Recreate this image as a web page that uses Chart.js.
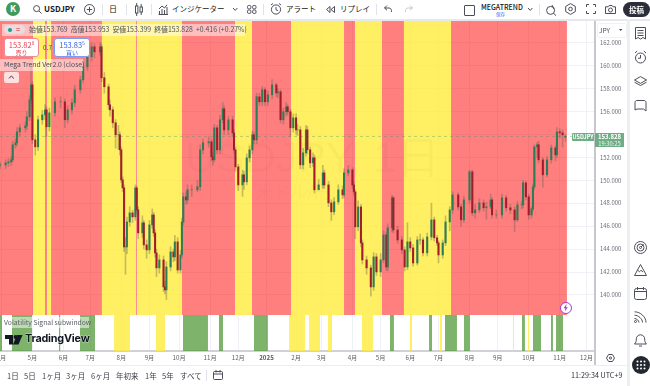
<!DOCTYPE html>
<html lang="ja"><head><meta charset="utf-8"><title>USDJPY</title>
<script src="https://cdn.jsdelivr.net/npm/chart.js@4/dist/chart.umd.min.js"></script>
<style>
html,body{margin:0;padding:0;background:#fff;width:650px;height:386px;overflow:hidden;font-family:"Noto Sans CJK JP","Noto Sans",sans-serif;color:#131722}
canvas{position:absolute;left:0;display:block}
.t{position:absolute;white-space:nowrap;line-height:1}
.b{position:absolute}
svg.i{position:absolute;fill:none;stroke:#4a4e59;stroke-width:1;overflow:visible}
</style></head><body>
<canvas id="main" width="628" height="294" style="top:21px"></canvas>
<canvas id="sub" width="628" height="50" style="top:315px"></canvas>

<!-- chrome lines -->
<div class="b" style="left:0;top:19px;width:650px;height:2px;background:#e6e8ee"></div>
<div class="b" style="left:594px;top:21px;width:1.5px;height:344px;background:#c6c8ce"></div>
<div class="b" style="left:627px;top:19px;width:3px;height:367px;background:#eceef2"></div>
<div class="b" style="left:0;top:365px;width:628px;height:1px;background:#eceef2"></div>

<!-- watermark -->
<div class="t" style="left:185px;top:136px;font-size:43px;color:rgba(0,0,0,.025);font-family:'Liberation Sans'">USDJPY, 1日</div>
<div class="t" style="left:256px;top:182px;font-size:17px;color:rgba(0,0,0,.025)">米ドル/円</div>

<!-- top bar -->
<div class="b" style="left:6px;top:2px;width:14px;height:14px;border-radius:50%;background:#3f9a5c;color:#fff;font-size:9px;font-weight:700;text-align:center;line-height:14px">K</div>
<svg class="i" style="left:33px;top:5px" width="9" height="9"><circle cx="3.6" cy="3.6" r="3"/><path d="M6 6l2.6 2.6"/></svg>
<div class="t" style="left:44px;top:5px;font-size:8px;font-weight:700">USDJPY</div>
<svg class="i" style="left:84px;top:4px" width="11" height="11"><circle cx="5.5" cy="5.5" r="5"/><path d="M5.5 2.8v5.4M2.8 5.5h5.4"/></svg>
<div class="b" style="left:102px;top:4px;width:1px;height:11px;background:#e0e3eb"></div>
<div class="t" style="left:109px;top:5px;font-size:8px">日</div>
<div class="b" style="left:126px;top:4px;width:1px;height:11px;background:#e0e3eb"></div>
<svg class="i" style="left:135px;top:3px" width="8" height="13"><rect x="0.5" y="3" width="2.4" height="7"/><rect x="5" y="4" width="2.4" height="5"/><path d="M1.7 0v3M1.7 10v3M6.2 1v3M6.2 9v3"/></svg>
<div class="b" style="left:151px;top:4px;width:1px;height:11px;background:#e0e3eb"></div>
<svg class="i" style="left:158px;top:4px" width="10" height="11"><path d="M0.5 10.5h9.5M1.5 10V7M4 10V5M6.5 10V6M9 10V3M1 5l3-3 2.5 2L9 0.8"/></svg>
<div class="t" style="left:172px;top:5px;font-size:7.5px">インジケーター</div>
<svg class="i" style="left:233px;top:8px" width="5" height="3"><path d="M0 0l2.2 2.4L4.4 0"/></svg>
<svg class="i" style="left:247px;top:5px" width="10" height="9"><rect x="0.5" y="0.5" width="3.4" height="3.4" rx="1.2"/><rect x="5.6" y="0.5" width="3.4" height="3.4" rx="1.2"/><rect x="0.5" y="5" width="3.4" height="3.4" rx="1.2"/><rect x="5.6" y="5" width="3.4" height="3.4" rx="1.2"/></svg>
<div class="b" style="left:263px;top:4px;width:1px;height:11px;background:#e0e3eb"></div>
<svg class="i" style="left:270px;top:3px" width="12" height="12"><circle cx="6" cy="6.5" r="4.6"/><path d="M6 4v2.8l2 .8M1 2l2-1.5M11 2l-2-1.5"/></svg>
<div class="t" style="left:286px;top:5px;font-size:7.5px">アラート</div>
<svg class="i" style="left:326px;top:6px" width="9" height="7"><path d="M4 0.5L0.5 3.5 4 6.5zM8.5 0.5L5 3.5l3.5 3z"/></svg>
<div class="t" style="left:340px;top:5px;font-size:7.5px">リプレイ</div>
<div class="b" style="left:376px;top:4px;width:1px;height:11px;background:#e0e3eb"></div>
<svg class="i" style="left:384px;top:5px" width="8" height="8"><path d="M3 0.5L0.5 3 3 5.2M0.5 3h4.4c1.5 0 2.5 1 2.5 2.5v1.5"/></svg>
<svg class="i" style="left:405px;top:5px;stroke:#c5c7cd" width="8" height="8"><path d="M5 0.5L7.5 3 5 5.2M7.5 3H3.1C1.6 3 .6 4 .6 5.5v1.5"/></svg>
<div class="b" style="left:464px;top:5px;width:9px;height:9px;border:1px solid #4a4e59;border-radius:1px"></div>
<div class="t" style="left:481px;top:4px;font-size:7px;font-weight:500">MEGATREND</div>
<div class="t" style="left:496px;top:11.5px;font-size:4.5px;color:#2962ff">保存</div>
<svg class="i" style="left:528px;top:8px" width="5" height="3"><path d="M0 0l2.2 2.4L4.4 0"/></svg>
<div class="b" style="left:539px;top:4px;width:1px;height:11px;background:#e0e3eb"></div>
<svg class="i" style="left:546px;top:3px" width="11" height="13"><circle cx="4.6" cy="7.4" r="4"/><path d="M6 2l2 4M7.4 10.2l2.6 2.4"/></svg>
<svg class="i" style="left:565px;top:3px" width="11" height="12"><path d="M5.5 .6l4.8 2.8v5.2L5.5 11.4.7 8.6V3.4z"/><circle cx="5.5" cy="6" r="1.8"/></svg>
<svg class="i" style="left:586px;top:4px" width="10" height="10"><path d="M0.5 3V0.5H3M7 0.5h2.5V3M9.5 7v2.5H7M3 9.5H0.5V7"/></svg>
<svg class="i" style="left:605px;top:5px" width="11" height="9"><path d="M0.5 1.8h2.6l1-1.3h3l1 1.3h2.4v6.7H0.5z"/><circle cx="5.5" cy="5" r="2"/></svg>
<div class="b" style="left:623px;top:2px;width:27px;height:15px;border-radius:8px;background:#2a2e39;color:#fff;font-size:7.5px;font-weight:700;text-align:center;line-height:15px">投稿</div>

<!-- legend -->
<div class="b" style="left:2px;top:24px;width:243px;height:12px;background:rgba(255,255,255,.5)"></div>
<div class="b" style="left:4px;top:25px;width:21px;height:9px;border-radius:5px;background:rgba(225,227,232,.8)"></div>
<div class="b" style="left:7.5px;top:27.5px;width:4px;height:4px;border-radius:50%;background:#1c9b8c"></div>
<div class="t" style="left:16px;top:25.5px;font-size:7px;color:#ef5350;font-weight:700">=</div>
<div class="t" style="left:29px;top:26px;font-size:6.9px;color:#4a4e59">始値153.769&nbsp; 高値153.953&nbsp; 安値153.399&nbsp; 終値153.828&nbsp; +0.416 (+0.27%)</div>
<div class="b" style="left:4px;top:38px;width:33px;height:17px;background:#fff;border:1px solid #f08a94;border-radius:3px;color:#e8414f;text-align:center"><div style="font-size:7.5px;line-height:10px;margin-top:1px">153.82<sup style="font-size:4.5px;line-height:0">8</sup></div><div style="font-size:6px;line-height:6px">売り</div></div>
<div class="t" style="left:43px;top:44px;font-size:6.5px;color:#4a4e59">0.7</div>
<div class="b" style="left:54px;top:38px;width:34px;height:17px;background:#fff;border:1px solid #7d9df5;border-radius:3px;color:#2f62e8;text-align:center"><div style="font-size:7.5px;line-height:10px;margin-top:1px">153.83<sup style="font-size:4.5px;line-height:0">5</sup></div><div style="font-size:6px;line-height:6px">買い</div></div>
<div class="b" style="left:0;top:59px;width:83px;height:12px;background:rgba(255,255,255,.5)"></div>
<div class="t" style="left:4px;top:61px;font-size:6.8px;color:#4a4e59">Mega Trend Ver2.0 (close)</div>
<div class="b" style="left:4px;top:72px;width:15px;height:11px;background:rgba(255,255,255,.75);border-radius:2px"></div>
<svg class="i" style="left:9px;top:76px" width="5" height="3"><path d="M0 2.4L2.4 0l2.4 2.4" stroke="#333"/></svg>

<!-- price axis -->
<div class="b" style="left:597px;top:23px;width:28px;height:13px;border:1px solid #f0f1f4;border-radius:2px;background:#fff"></div>
<div class="t" style="left:599px;top:26.5px;font-size:6.5px;color:#4a4e59">JPY</div>
<svg class="i" style="left:619px;top:29px" width="4" height="3"><path d="M0 0h3.4L1.7 2z" fill="#4a4e59" stroke="none"/></svg>
<div class="b" style="left:572px;top:133px;width:22px;height:8px;background:#6fae85;color:#fff;font-size:5.5px;font-weight:700;text-align:center;line-height:8px;border-radius:1px 0 0 1px">USDJPY</div>
<div class="b" style="left:595px;top:133px;width:29px;height:14px;background:#6fae85;color:#fff;text-align:center;font-size:6px;line-height:7px"><div style="font-weight:600">153.828</div><div style="opacity:.85;font-size:5.8px">19:30:25</div></div>

<!-- lightning -->
<div class="b" style="left:560px;top:302px;width:10px;height:10px;border:1px solid #a13fc9;border-radius:50%;background:#fff"></div>
<svg class="i" style="left:563px;top:304px;stroke:none" width="6" height="8"><path d="M3.6 0L0.6 4.2h1.8L1.8 7.4l3-4.2H3z" fill="#a13fc9"/></svg>

<!-- signal pane overlay -->
<div class="b" style="left:3px;top:317px;width:86px;height:11px;background:rgba(255,255,255,.5)"></div>
<div class="t" style="left:4px;top:319px;font-size:6.8px;color:#5c606b">Volatility Signal subwindow</div>
<svg class="i" style="left:5px;top:335px;stroke:none" width="18" height="10"><path d="M0 0h8v9.500H4V4H0zM12 0h5.500l-4 9.500H8z" fill="#131722"/><circle cx="10.500" cy="2" r="1.900" fill="#131722"/></svg>
<div class="t" style="left:25px;top:334px;font-size:10.800px;font-weight:700;color:#131722;font-family:'Inter','Noto Sans';letter-spacing:-.2px;-webkit-text-stroke:.5px #fff;paint-order:stroke">TradingView</div>

<!-- bottom bar -->
<div class="t" style="left:7px;top:372px;font-size:7.500px;color:#3a3e49">1日</div>
<div class="t" style="left:24px;top:372px;font-size:7.500px;color:#3a3e49">5日</div>
<div class="t" style="left:42px;top:372px;font-size:7.500px;color:#3a3e49">1ヶ月</div>
<div class="t" style="left:66px;top:372px;font-size:7.500px;color:#3a3e49">3ヶ月</div>
<div class="t" style="left:91px;top:372px;font-size:7.500px;color:#3a3e49">6ヶ月</div>
<div class="t" style="left:116px;top:372px;font-size:7.500px;color:#3a3e49">年初来</div>
<div class="t" style="left:145px;top:372px;font-size:7.500px;color:#3a3e49">1年</div>
<div class="t" style="left:162px;top:372px;font-size:7.500px;color:#3a3e49">5年</div>
<div class="t" style="left:180px;top:372px;font-size:7.500px;color:#3a3e49">すべて</div>
<div class="b" style="left:206px;top:370px;width:1px;height:11px;background:#e0e3eb"></div>
<svg class="i" style="left:213px;top:370px" width="10" height="10"><rect x="0.500" y="1.500" width="9" height="8" rx="1"/><path d="M0.500 4h9M3 0v2.500M7 0v2.500"/></svg>
<div class="t" style="left:571px;top:372px;font-size:7.200px;color:#2a2e39">11:29:34 UTC+9</div>
<svg class="i" style="left:606px;top:354px" width="9" height="8"><path d="M2.500 .5h4L8.500 4l-2 3.500h-4L.5 4z"/><circle cx="4.500" cy="4" r="1.100"/></svg>

<!-- right toolbar -->
<svg class="i" style="left:635px;top:27px" width="11" height="13"><path d="M0.500 .5h10v11.500l-2.500-1.500-2.500 1.500-2.500-1.500L.5 12zM2.500 3.500h6M2.500 6h6M2.500 8.500h6"/></svg>
<svg class="i" style="left:634px;top:50px" width="13" height="14"><circle cx="6.500" cy="8" r="5"/><path d="M6.500 5v3.200H4M1 3l2.200-2M12 3L9.800 1"/></svg>
<svg class="i" style="left:634px;top:76px" width="13" height="10"><path d="M6.500 .6L12.500 4l-6 3.400L.5 4zM.5 6.200l6 3.300 6-3.300"/></svg>
<svg class="i" style="left:634px;top:100px" width="14" height="12"><path d="M1 10V2.500C1 1.300 1.800.5 3 .5h7c1.200 0 2 .8 2 2V11l-2.500-2H3"/><path d="M1 10l2-1"/></svg>
<svg class="i" style="left:634px;top:241px" width="13" height="13"><circle cx="6.500" cy="6.500" r="6"/><circle cx="6.500" cy="6.500" r="3.500"/><circle cx="6.500" cy="6.500" r="1"/><path d="M7 6l2.500-2.500"/></svg>
<svg class="i" style="left:634px;top:264px" width="13" height="12"><path d="M.5 11.500h12L6.500.5zM3.500 6l2 1.800 1.500-1.600L9 8"/></svg>
<svg class="i" style="left:634px;top:287px" width="13" height="13"><rect x="0.500" y="1.500" width="12" height="11" rx="2"/><path d="M.5 4.500h12M3.500 0v3M9.500 0v3"/></svg>
<svg class="i" style="left:634px;top:311px" width="13" height="12"><path d="M.5 .8C6.500.8 12 6 12 11.500M.5 4.200c4 0 8 3.800 8 7.300M.5 7.500c2 0 4.500 2 4.500 4"/><circle cx="1.500" cy="10.500" r="1"/></svg>
<svg class="i" style="left:634px;top:333px" width="13" height="14"><path d="M.5 11h12c-1.500-1.500-1.800-2.500-1.800-5a4.200 4.200 0 0 0-8.400 0c0 2.500-.3 3.500-1.800 5zM5 13h3"/></svg>
<div class="b" style="left:632px;top:356px;width:18px;height:18px;border-radius:50%;background:#23272f"></div>
<svg class="i" style="left:636px;top:360px;stroke:none" width="10" height="10"><g fill="#fff"><circle cx="1.500" cy="1.500" r="1"/><circle cx="5" cy="1.500" r="1"/><circle cx="8.500" cy="1.500" r="1"/><circle cx="1.500" cy="5" r="1"/><circle cx="5" cy="5" r="1"/><circle cx="8.500" cy="5" r="1"/><circle cx="1.500" cy="8.500" r="1"/><circle cx="5" cy="8.500" r="1"/><circle cx="8.500" cy="8.500" r="1"/></g></svg>

<script>
// trading-session index of each month start, and its axis label
const monthSessions = [1,23,45,64,86,106,127,149,169,189,210,228,250,270,291,311,333,353,375,397,416];
const monthLabels = ['4月','5月','6月','7月','8月','9月','10月','11月','12月','2025','2月','3月','4月','5月','6月','7月','8月','9月','10月','11月','12月'];
const priceTicks = [140,142,144,146,148,150,152,154,156,158,160,162];
const hiddenPriceLabel = 154; // covered by the last-price tag in the reference
const lastPrice = 153.828;

// candle samples: session index and OHLC prices
const sessions = [
0,4,6,8,9,11,12,14,18,19,
21,22,23,25,27,30,32,33,35,39,
43,46,48,51,53,57,59,62,65,67,
71,72,74,77,78,80,82,84,85,86,
87,88,89,90,92,94,96,97,98,101,
102,104,106,108,109,110,111,113,116,117,
118,121,123,124,126,128,129,130,132,133,
136,140,142,144,148,150,151,152,154,156,
158,159,162,165,166,167,169,172,173,175,
177,179,180,182,184,186,188,190,193,196,
197,199,201,203,204,206,208,210,211,213,
215,217,218,220,222,223,226,229,230,233,
235,237,240,243,244,247,250,251,252,254,
256,257,260,263,265,267,270,272,274,275,
278,279,282,285,287,289,291,293,296,298,
300,303,306,308,310,311,314,316,319,321,
325,327,329,333,335,337,340,343,345,348,
349,352,356,359,362,365,367,370,371,373,
375,377,378,379,381,382,385,388,391,394,
395,397,399,401];
const opens = [
151.30,151.35,151.52,151.61,151.79,153.10,153.27,154.23,154.58,154.75,
155.54,157.02,158.33,153.53,152.92,155.28,155.71,156.15,154.67,155.89,
156.85,156.85,155.28,156.15,156.76,157.90,158.77,159.90,160.78,161.65,
161.21,161.65,158.95,158.16,156.59,156.15,155.02,153.97,153.97,152.66,
150.04,149.34,144.19,144.19,146.37,147.16,146.81,149.34,147.42,145.41,
146.29,144.37,143.93,146.11,146.98,145.41,143.67,142.36,143.06,140.70,
140.44,142.44,143.75,143.32,144.63,142.18,143.49,146.37,148.56,148.29,
149.17,149.17,149.43,152.66,153.27,153.36,152.05,151.79,154.58,152.66,
155.28,156.24,154.40,155.28,154.14,152.66,151.17,149.60,150.48,149.87,
151.96,152.66,153.97,153.53,157.29,156.85,157.90,156.85,157.46,158.33,
157.63,157.72,155.28,155.98,156.41,155.98,154.58,155.45,154.40,154.40,
151.35,152.40,154.40,152.66,151.52,151.96,149.17,149.60,150.65,149.60,
148.03,147.25,148.12,149.17,148.73,150.65,150.91,149.60,148.99,145.94,
147.68,144.54,143.06,142.36,140.70,143.32,142.01,143.06,145.24,142.44,
145.85,148.47,145.67,144.80,143.93,142.44,144.63,144.10,142.79,144.80,
144.80,143.67,145.06,146.55,144.98,144.54,143.49,144.54,146.37,147.42,
148.73,147.68,146.55,148.29,150.74,147.16,147.42,148.03,147.60,147.68,
148.29,146.98,146.98,148.47,147.60,147.42,146.55,147.86,147.86,149.78,
148.56,146.98,147.51,149.43,152.92,153.10,151.79,150.48,151.79,152.83,
152.22,154.23,154.14,153.769];
const highs = [
151.6,151.8,151.9,152.1,153.4,153.6,154.6,154.9,155.1,156.0,
157.4,160.2,158.6,154.0,155.6,156.1,156.6,156.4,156.3,157.2,
157.3,157.1,156.5,157.1,158.3,159.1,160.3,161.3,162.0,161.9,
162.0,161.9,159.4,158.4,157.0,156.4,155.3,154.8,154.2,152.9,
150.3,149.6,145.0,146.8,147.7,147.4,149.6,149.5,147.7,146.9,
146.5,144.8,146.5,147.5,147.2,145.7,144.0,143.5,143.4,141.2,
142.9,144.2,144.0,145.2,145.0,143.9,146.7,148.9,149.0,149.6,
149.6,150.0,153.1,153.6,153.8,153.6,152.4,154.9,154.8,155.7,
156.8,156.5,155.6,155.6,154.4,152.9,151.4,150.9,150.8,152.3,
153.0,154.3,154.2,157.6,157.6,158.2,158.1,157.8,158.8,158.5,
158.0,157.9,156.3,156.8,156.6,156.2,155.8,155.8,154.9,154.7,
152.8,154.8,154.7,152.9,152.4,152.2,150.1,151.3,150.9,149.9,
148.3,148.5,149.6,149.5,151.0,151.3,151.1,149.9,149.2,148.2,
147.9,144.8,143.4,142.6,143.7,143.6,143.6,145.6,145.5,146.2,
148.7,148.6,146.0,145.1,144.2,146.3,145.0,144.4,145.1,145.3,
145.0,145.4,148.0,146.8,145.2,144.7,144.8,146.9,147.7,149.0,
148.9,147.9,148.6,150.9,150.9,147.9,148.4,148.3,148.1,148.8,
148.5,147.4,148.8,148.7,147.9,147.7,148.2,148.2,150.0,149.9,
148.8,147.7,149.7,153.1,153.3,153.4,152.0,152.1,153.1,153.0,
154.6,154.5,154.4,153.953];
const lows = [
151.0,151.0,151.2,151.3,151.6,152.8,153.0,153.9,154.2,154.4,
155.2,156.7,153.2,152.2,152.6,154.9,155.3,153.8,154.3,155.6,
156.3,154.6,155.0,155.8,156.4,157.6,158.5,159.6,160.4,160.7,
160.9,158.6,157.6,156.2,155.6,154.6,152.8,152.7,152.2,149.8,
149.0,143.8,141.8,143.6,146.0,146.3,146.5,147.1,144.9,145.0,
144.0,143.2,143.6,145.8,145.1,143.3,141.6,141.9,140.3,140.1,
139.6,142.1,142.9,143.0,141.9,141.9,143.2,146.1,147.9,148.0,
148.6,149.0,149.1,152.3,152.9,151.7,151.3,151.6,152.3,152.3,
155.0,154.0,154.0,153.8,152.3,150.8,149.1,148.6,149.2,149.6,
151.6,152.3,153.2,153.2,156.5,156.5,156.5,156.5,157.1,157.3,
157.2,155.0,154.9,155.6,155.7,153.8,154.2,154.0,153.9,151.0,
151.0,152.1,152.3,151.1,151.2,148.9,149.2,149.3,149.3,147.7,
146.5,147.0,147.9,148.4,148.5,150.4,149.3,148.7,144.9,145.6,
144.2,142.7,141.8,139.9,140.4,141.7,141.6,142.8,142.1,142.1,
145.5,145.4,144.5,143.6,142.1,142.2,143.8,142.5,142.6,144.4,
143.4,143.4,144.8,144.7,144.3,142.8,143.2,144.3,145.6,147.1,
147.4,146.0,146.3,148.0,146.9,146.7,147.2,147.3,146.6,147.5,
146.7,146.7,146.7,147.3,147.1,145.5,146.4,147.5,147.6,148.3,
146.6,146.7,147.3,149.2,152.0,151.5,149.4,150.3,151.5,151.7,
152.0,153.7,152.9,153.399];
const closes = [
151.35,151.52,151.61,151.79,153.10,153.27,154.23,154.58,154.75,155.54,
157.02,158.33,153.53,152.92,155.28,155.71,156.15,154.67,155.89,156.85,
156.85,155.28,156.15,156.76,157.90,158.77,159.90,160.78,161.65,161.21,
161.65,158.95,158.16,156.59,156.15,155.02,153.97,153.97,152.66,150.04,
149.34,144.19,144.19,146.37,147.16,146.81,149.34,147.42,145.41,146.29,
144.37,143.93,146.11,146.98,145.41,143.67,142.36,143.06,140.70,140.44,
142.44,143.75,143.32,144.63,142.18,143.49,146.37,148.56,148.29,149.17,
149.17,149.43,152.66,153.27,153.36,152.05,151.79,154.58,152.66,155.28,
156.24,154.40,155.28,154.14,152.66,151.17,149.60,150.48,149.87,151.96,
152.66,153.97,153.53,157.29,156.85,157.90,156.85,157.46,158.33,157.63,
157.72,155.28,155.98,156.41,155.98,154.58,155.45,154.40,154.40,151.35,
152.40,154.40,152.66,151.52,151.96,149.17,149.60,150.65,149.60,148.03,
147.25,148.12,149.17,148.73,150.65,150.91,149.60,148.99,145.94,147.68,
144.54,143.06,142.36,140.70,143.32,142.01,143.06,145.24,142.44,145.85,
148.47,145.67,144.80,143.93,142.44,144.63,144.10,142.79,144.80,144.80,
143.67,145.06,146.55,144.98,144.54,143.49,144.54,146.37,147.42,148.73,
147.68,146.55,148.29,150.74,147.16,147.42,148.03,147.60,147.68,148.29,
146.98,146.98,148.47,147.60,147.42,146.55,147.86,147.86,149.78,148.56,
146.98,147.51,149.43,152.92,153.10,151.79,150.48,151.79,152.83,152.22,
154.23,154.14,153.97,153.828];

// Mega Trend regions: session boundaries, alternating red / yellow starting with red
const trendBounds = [0,23.4,31.9,33.3,36.2,72.3,96.5,97.5,128.7,166.7,178.4,206.4,244,251.8,270.9,286.5,319.9,402.1];
// Volatility signal spans in sessions: start, end, kind
const signalStarts = [0,8.5,41.8,56.7,80.9,110.6,129.8,155.3,180.1,205,219.1,232.6,256.7,276.6,290.8,304.3,312,315.6,329.1,363.8,370.2,374.5,378,390.8,394.3];
const signalEnds   = [1.5,22.7,42.9,67.4,92.2,117,147.5,158.2,190,216.3,227,235.5,264.5,279.4,292.2,306.4,313.5,324.1,333.3,364.5,372.3,375.2,383.7,392.2,399.3];
const signalKinds  = ['g','g','g','g','y','y','g','g','g','y','y','y','y','g','y','g','y','g','g','y','g','y','g','g','g'];

const RED='rgba(255,0,0,.5)', YEL='rgba(255,235,59,.8)', GRN='rgba(76,150,50,.72)';
const UP='#2b7d58', DOWN='#a11d2c', WICK='rgba(95,95,75,.36)', GRID='#eff1f6';
const FONT='"Noto Sans CJK JP","Noto Sans",sans-serif';
const XMAX=421.3, PMIN=138.25, PMAX=163.9;

const monthTicks = s => { s.ticks = monthSessions.map(v=>({value:v})); };
const noPad = s => { s.paddingLeft=s.paddingRight=s.paddingTop=s.paddingBottom=0; };
const band = (a,b,color,top) => ({type:'line',data:[{x:a,y:top},{x:b,y:top}],fill:'start',backgroundColor:color,borderWidth:0,pointRadius:0,order:5});

const regionSets = trendBounds.slice(0,-1).map((a,i)=>band(a,trendBounds[i+1], i%2?YEL:RED, PMAX));

new Chart(document.getElementById('main'),{
  type:'bar',
  data:{datasets:[
    ...regionSets,
    {type:'line',data:[{x:0,y:lastPrice},{x:XMAX,y:lastPrice}],borderColor:'rgba(60,140,95,.35)',borderWidth:1,borderDash:[3,3],pointRadius:0,order:4},
    {data:sessions.map((s,i)=>({x:s,y:[lows[i],highs[i]]})),backgroundColor:WICK,barThickness:1,grouped:false,order:2},
    {data:sessions.map((s,i)=>({x:s,y:[Math.min(opens[i],closes[i]),Math.max(opens[i],closes[i])]})),
     backgroundColor:ctx=>closes[ctx.dataIndex]>=opens[ctx.dataIndex]?UP:DOWN,barThickness:1.4,grouped:false,order:1}
  ]},
  options:{
    responsive:false,animation:false,devicePixelRatio:1,
    layout:{padding:0,autoPadding:false},
    plugins:{legend:{display:false},tooltip:{enabled:false}},
    scales:{
      x:{type:'linear',offset:false,min:0,max:XMAX,afterBuildTicks:monthTicks,afterFit:s=>{s.height=0;noPad(s);},
         grid:{color:GRID,drawTicks:false,offset:false},border:{display:false},ticks:{display:false}},
      y:{position:'right',offset:false,min:PMIN,max:PMAX,afterBuildTicks:s=>{s.ticks=priceTicks.map(v=>({value:v}));},afterFit:s=>{s.width=34;noPad(s);},
         grid:{color:GRID,drawTicks:false},border:{display:false},
         ticks:{padding:6,color:'#6d707b',font:{size:5.9,family:FONT},callback:v=>v===hiddenPriceLabel?'':v.toFixed(3)}}
    }
  }
});

new Chart(document.getElementById('sub'),{
  type:'line',
  data:{datasets:signalStarts.map((a,i)=>band(a,signalEnds[i],signalKinds[i]==='g'?GRN:YEL,1))},
  options:{
    responsive:false,animation:false,devicePixelRatio:1,
    layout:{padding:0,autoPadding:false},
    plugins:{legend:{display:false},tooltip:{enabled:false}},
    scales:{
      x:{type:'linear',offset:false,min:0,max:XMAX,afterBuildTicks:monthTicks,afterFit:s=>{s.height=14;noPad(s);},
         grid:{color:GRID,drawTicks:false},border:{color:'#cfd1d7',width:2},
         ticks:{autoSkip:false,maxRotation:0,padding:3,color:'#5d606b',
                font:c=>({size:6.2,family:FONT,weight:monthLabels[c.index]==='2025'?'700':'400'}),
                callback:v=>monthLabels[monthSessions.indexOf(v)]}},
      y:{position:'right',offset:false,min:0,max:1,afterFit:s=>{s.width=34;noPad(s);},
         grid:{display:false},border:{display:false},ticks:{display:false}}
    }
  }
});
</script>
</body></html>
